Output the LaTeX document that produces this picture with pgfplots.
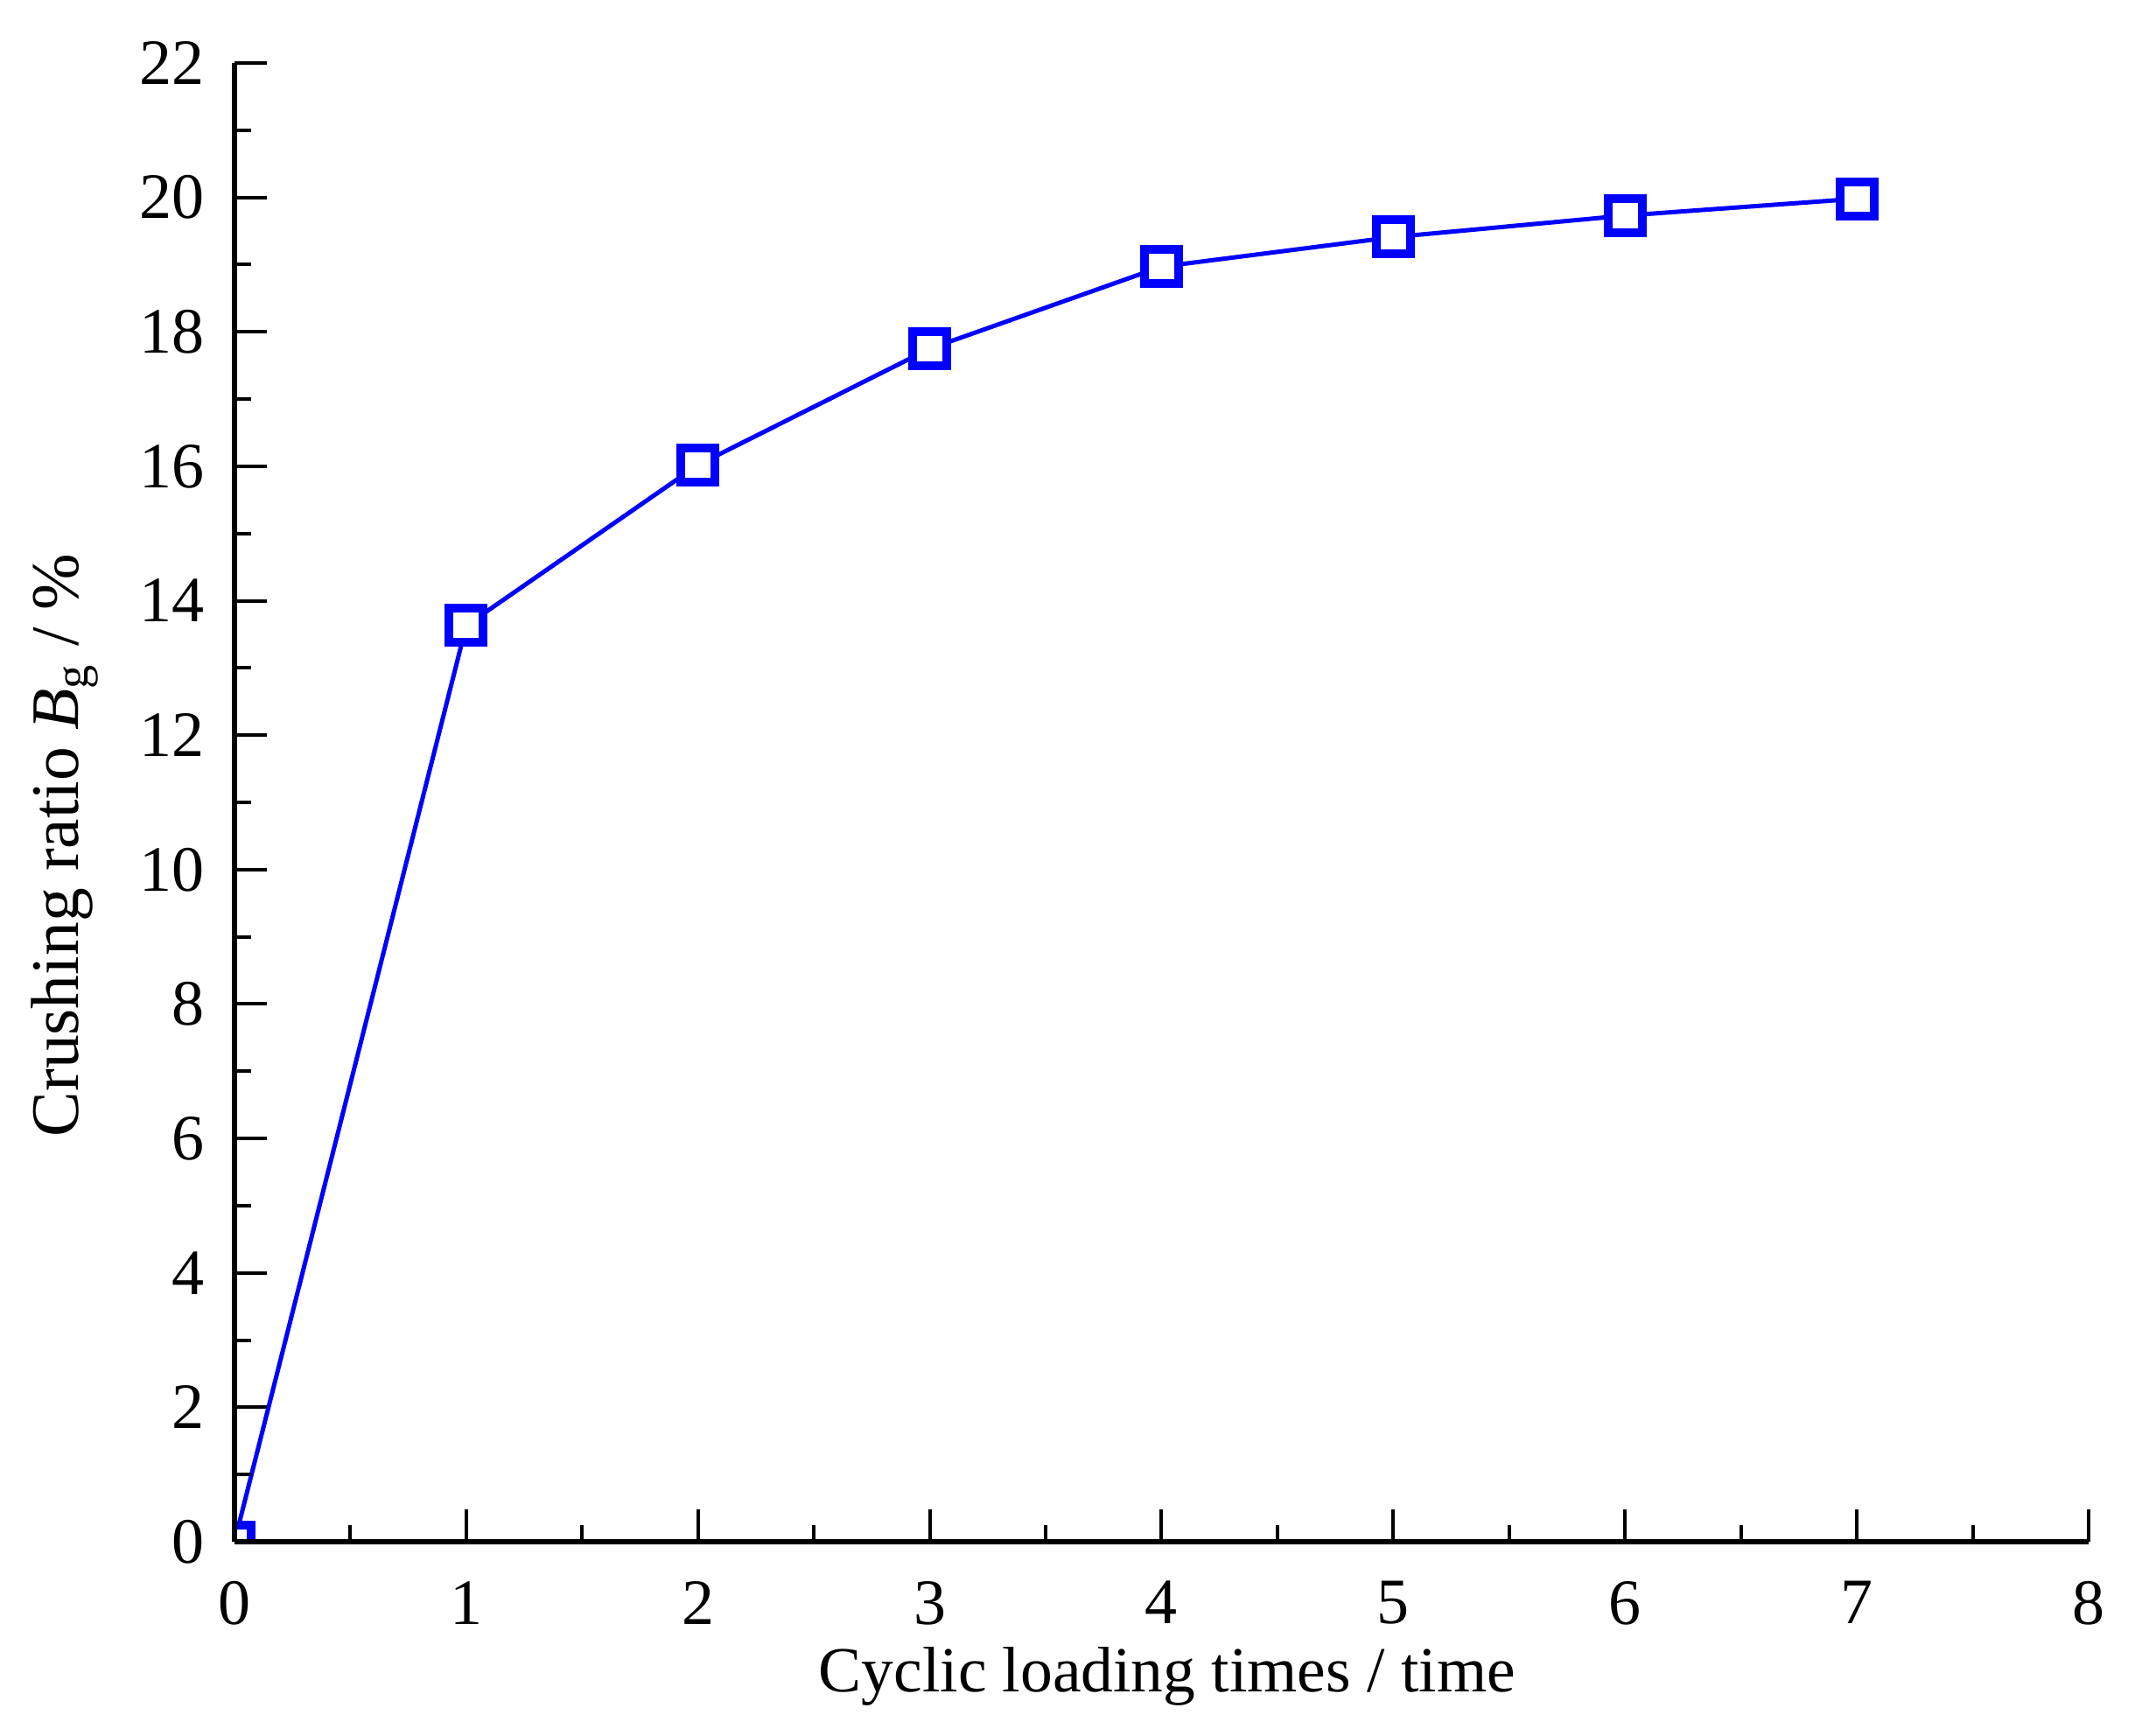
\documentclass[border=0pt]{standalone}
\usepackage{pgfplots}
\pgfplotsset{compat=1.18}
\usepackage{fontspec}
\setmainfont{Liberation Serif}
\begin{document}
\begin{tikzpicture}
\begin{axis}[
  scale only axis,
  width=423.8pt, height=338pt,
  xmin=0, xmax=8, ymin=0, ymax=22,
  axis lines*=left,
  axis line style={line width=1.1pt, -},
  xtick={0,1,...,8}, ytick={0,2,...,22},
  minor xtick={0.5,1.5,...,7.5},
  minor ytick={1,3,...,21},
  tick align=inside,
  major tick length=7.4pt, minor tick length=3.8pt,
  every tick/.style={black, line width=0.8pt},
  tick label style={font=\fontsize{14.8}{16}\selectfont},
  /pgf/number format/assume math mode=true,
  xticklabel style={yshift=-5.5pt},
  yticklabel style={xshift=-3.3pt},
  xlabel={Cyclic loading times / time},
  ylabel={Crushing ratio \textit{B}\textsubscript{g} / \%},
  xlabel style={font=\fontsize{14.7}{16}\selectfont, at={([yshift=-34.2pt]axis description cs:0.503,0)}, anchor=base},
  ylabel style={font=\fontsize{15.5}{17}\selectfont, at={([xshift=-35.6pt]axis description cs:0,0.471)}, anchor=base},
  clip marker paths=true,
  axis on top,
]
\addplot[color={rgb,255:red,0;green,0;blue,255}, line width=1pt,
  mark=square*, mark size=3.9pt,
  mark options={line width=2pt, fill=white, solid}]
  coordinates {(0,0) (1,13.63) (2,16.02) (3,17.75) (4,18.97) (5,19.41) (6,19.73) (7,19.98)};
\end{axis}
\path[use as bounding box] (current axis.south west) ++(-53.6pt,-44.4pt) rectangle ++(488pt,396.8pt);
\end{tikzpicture}
\end{document}
